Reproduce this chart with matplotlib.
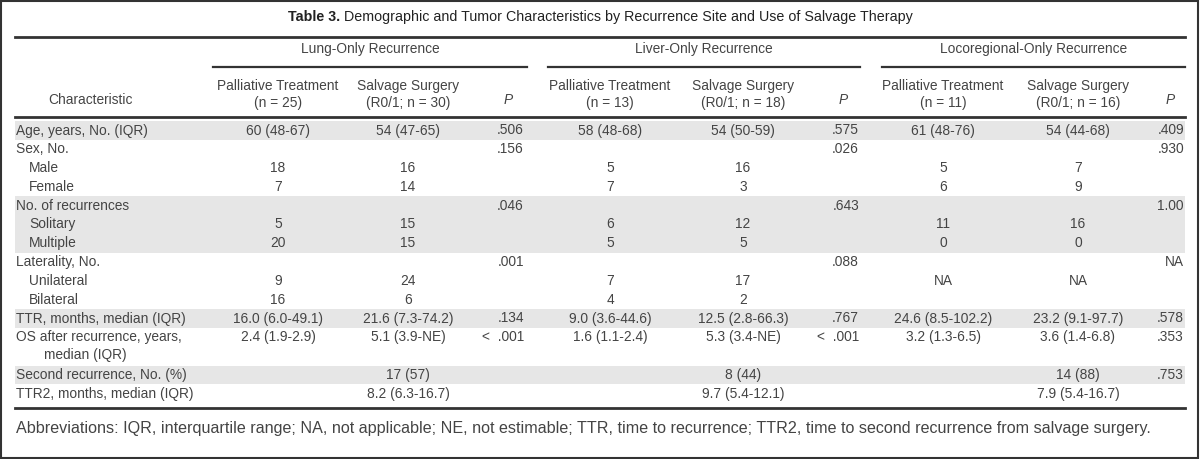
import matplotlib
matplotlib.use("Agg")
import matplotlib.pyplot as plt
from matplotlib.patches import Rectangle
from matplotlib.lines import Line2D

# ---------------- data ----------------
title_bold = "Table 3."
title_rest = " Demographic and Tumor Characteristics by Recurrence Site and Use of Salvage Therapy"
groups = ["Lung-Only Recurrence", "Liver-Only Recurrence", "Locoregional-Only Recurrence"]
sub_pal = ["Palliative Treatment\n(n = 25)", "Palliative Treatment\n(n = 13)", "Palliative Treatment\n(n = 11)"]
sub_sal = ["Salvage Surgery\n(R0/1; n = 30)", "Salvage Surgery\n(R0/1; n = 18)", "Salvage Surgery\n(R0/1; n = 16)"]

row_labels = ["Age, years, No. (IQR)", "Sex, No.", "Male", "Female", "No. of recurrences",
              "Solitary", "Multiple", "Laterality, No.", "Unilateral", "Bilateral",
              "TTR, months, median (IQR)", "OS after recurrence, years,\nmedian (IQR)",
              "Second recurrence, No. (%)", "TTR2, months, median (IQR)"]
row_indent = [0, 0, 1, 1, 0, 1, 1, 0, 1, 1, 0, 0, 0, 0]
row_slot = [0, 1, 2, 3, 4, 5, 6, 7, 8, 9, 10, 11, 13, 14]

lung_pal = ["60 (48-67)", "", "18", "7", "", "5", "20", "", "9", "16", "16.0 (6.0-49.1)", "2.4 (1.9-2.9)", "", ""]
lung_sal = ["54 (47-65)", "", "16", "14", "", "15", "15", "", "24", "6", "21.6 (7.3-74.2)", "5.1 (3.9-NE)", "17 (57)", "8.2 (6.3-16.7)"]
lung_p = [".506", ".156", "", "", ".046", "", "", ".001", "", "", ".134", "<  .001", "", ""]
liver_pal = ["58 (48-68)", "", "5", "7", "", "6", "5", "", "7", "4", "9.0 (3.6-44.6)", "1.6 (1.1-2.4)", "", ""]
liver_sal = ["54 (50-59)", "", "16", "3", "", "12", "5", "", "17", "2", "12.5 (2.8-66.3)", "5.3 (3.4-NE)", "8 (44)", "9.7 (5.4-12.1)"]
liver_p = [".575", ".026", "", "", ".643", "", "", ".088", "", "", ".767", "<  .001", "", ""]
loco_pal = ["61 (48-76)", "", "5", "6", "", "11", "0", "", "NA", "", "24.6 (8.5-102.2)", "3.2 (1.3-6.5)", "", ""]
loco_sal = ["54 (44-68)", "", "7", "9", "", "16", "0", "", "NA", "", "23.2 (9.1-97.7)", "3.6 (1.4-6.8)", "14 (88)", "7.9 (5.4-16.7)"]
loco_p = [".409", ".930", "", "", "1.00", "", "", "NA", "", "", ".578", ".353", ".753", ""]

shaded_slots = [(0, 0), (4, 6), (10, 10), (13, 13)]
footnote = ("Abbreviations: IQR, interquartile range; NA, not applicable; NE, not estimable; "
            "TTR, time to recurrence; TTR2, time to second recurrence from salvage surgery.")

# ---------------- layout ----------------
W, H = 1200, 459
fig = plt.figure(figsize=(W / 100, H / 100), dpi=100)
FONT = "Liberation Sans"
FS = 9.9
TC = "#444444"


def fx(x):
    return x / W


def fy(y):
    return 1 - y / H


def txt(x, y, s, ha="left", **kw):
    kw.setdefault("fontsize", FS)
    kw.setdefault("color", TC)
    kw.setdefault("family", FONT)
    return fig.text(fx(x), fy(y), s, ha=ha, va="center", **kw)


def hline(x0, x1, y, lw=1.6):
    fig.add_artist(Line2D([fx(x0), fx(x1)], [fy(y), fy(y)], color="#333333", lw=lw,
                          transform=fig.transFigure))


# border
fig.add_artist(Rectangle((fx(1), fy(458)), fx(1197), (457) / H, transform=fig.transFigure,
                         fill=False, edgecolor="#333333", lw=1.5))

L, R = 15, 1185
row0, pitch = 130.5, 18.8

# shaded bands
for a, b in shaded_slots:
    y0 = row0 + a * pitch - pitch / 2
    y1 = row0 + b * pitch + pitch / 2
    fig.add_artist(Rectangle((fx(L), fy(y1)), fx(R - L), (y1 - y0) / H, transform=fig.transFigure,
                             facecolor="#e6e6e6", edgecolor="none", zorder=0))

# title
t1 = txt(0, 17, title_bold, fontweight="bold", fontsize=10.3, color="#222222")
t2 = txt(0, 17, title_rest, fontsize=10.3, color="#222222")
fig.canvas.draw()
r = fig.canvas.get_renderer()
w1 = t1.get_window_extent(r).width
w2 = t2.get_window_extent(r).width
start = 600 - (w1 + w2) / 2
t1.set_x(fx(start))
t2.set_x(fx(start + w1))

hline(L, R, 37, lw=2.0)

# group headers
group_span = [(213, 527), (548, 860), (882, 1185)]
pal_x = [278, 610, 943]
sal_x = [408, 743, 1078]
p_right = [524, 859, 1184]
p_head = [508, 843, 1170]
for g, (a, b) in enumerate(group_span):
    txt((a + b) / 2, 49, groups[g], ha="center")
    hline(a, b, 67, lw=1.6)
    txt(pal_x[g], 94.5, sub_pal[g], ha="center", linespacing=1.3, ma="center")
    txt(sal_x[g], 94.5, sub_sal[g], ha="center", linespacing=1.3, ma="center")
    txt(p_head[g], 100, "P", ha="center", style="italic")
txt(90, 100, "Characteristic", ha="center")
hline(L, R, 117, lw=2.0)

# body
cols = [(lung_pal, pal_x[0], "center"), (lung_sal, sal_x[0], "center"), (lung_p, p_right[0], "right"),
        (liver_pal, pal_x[1], "center"), (liver_sal, sal_x[1], "center"), (liver_p, p_right[1], "right"),
        (loco_pal, pal_x[2], "center"), (loco_sal, sal_x[2], "center"), (loco_p, p_right[2], "right")]
for i, lab in enumerate(row_labels):
    y = row0 + row_slot[i] * pitch
    if "\n" in lab:
        first, second = lab.split("\n")
        txt(L + 1, y, first)
        txt(L + 29, y + pitch * 0.95, second)
    else:
        txt(L + 1 + 13 * row_indent[i], y, lab)
    for vals, x, ha in cols:
        if vals[i]:
            txt(x, y, vals[i], ha=ha)

hline(L, R, 408, lw=2.0)
txt(L + 1, 428, footnote, fontsize=11.6)

fig.savefig("out.png", dpi=100)
